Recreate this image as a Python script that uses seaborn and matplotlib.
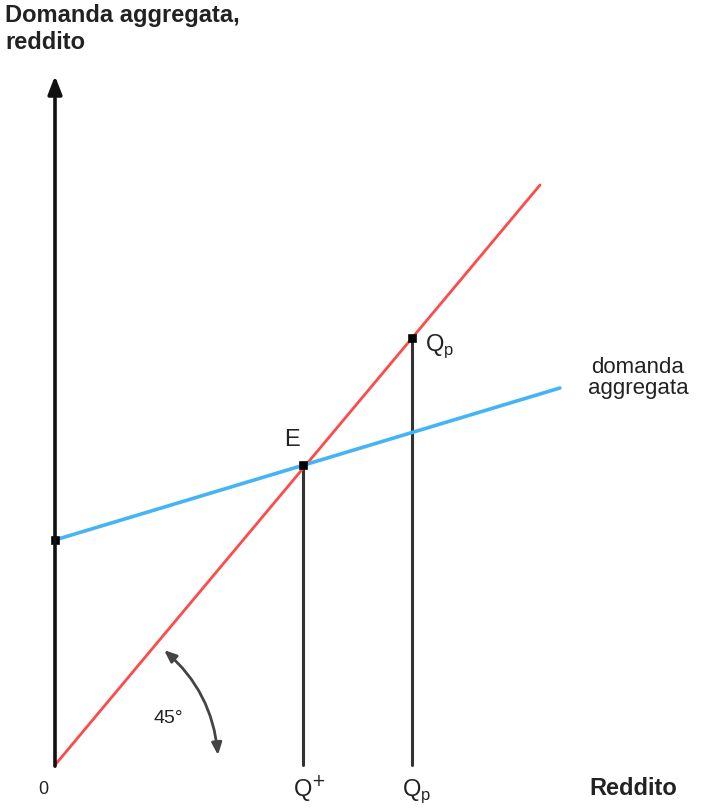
import matplotlib
matplotlib.use("Agg")
import matplotlib.pyplot as plt
import seaborn as sns
import pandas as pd

sns.set_theme(style="white")
plt.rcParams['font.family'] = ['Liberation Sans', 'DejaVu Sans']

# data
red_x = [0.0, 10.0]
red_y = [0.0, 10.0]
blue_x = [0.0, 10.41]
blue_y = [3.88, 6.50]
pts_x = [0.0, 5.12, 7.36]
pts_y = [3.88, 5.17, 7.36]
q_star = 5.12
q_p = 7.36
e_y = 5.17
qp_y = 7.36
x_axis_end = 13.6
y_axis_end = 11.88

fig = plt.figure(figsize=(7.14, 8.08), dpi=100)
ax = fig.add_axes([0, 0, 1, 1])
ax.set_xlim(-55 / 48.5, 659 / 48.5)
ax.set_ylim(-43 / 58, 765 / 58)
ax.axis('off')

# vertical guide lines
ax.plot([q_star, q_star], [0, e_y], color='#333333', lw=2.2, zorder=2)
ax.plot([q_p, q_p], [0, qp_y], color='#333333', lw=2.2, zorder=2)

red_df = pd.DataFrame({'x': red_x, 'y': red_y})
blue_df = pd.DataFrame({'x': blue_x, 'y': blue_y})
sns.lineplot(data=red_df, x='x', y='y', ax=ax, color='#ff4a4a', lw=2.0, zorder=3)
sns.lineplot(data=blue_df, x='x', y='y', ax=ax, color='#45b4f5', lw=2.6, zorder=3)

pts_df = pd.DataFrame({'x': pts_x, 'y': pts_y})
sns.scatterplot(data=pts_df, x='x', y='y', ax=ax, marker='s', s=30, color='black',
                edgecolor='black', zorder=5)

# axes with arrows
ax.annotate('', xy=(x_axis_end, 0), xytext=(-0.02, 0),
            arrowprops=dict(arrowstyle='-|>,head_length=0.9,head_width=0.35', color='#111111', lw=3.2,
                            shrinkA=0, shrinkB=0), zorder=6)
ax.annotate('', xy=(0, y_axis_end), xytext=(0, -0.02),
            arrowprops=dict(arrowstyle='-|>,head_length=0.9,head_width=0.35', color='#111111', lw=2.6,
                            shrinkA=0, shrinkB=0), zorder=6)

# 45 degree arc arrow
ax.annotate('', xy=(3.36, 0.17), xytext=(2.25, 1.98),
            arrowprops=dict(arrowstyle='<|-|>,head_length=0.6,head_width=0.25', color='#444444', lw=2.0,
                            connectionstyle='arc3,rad=-0.2', shrinkA=0, shrinkB=0), zorder=4)

tk = dict(color='#222222', fontweight='bold')
ax.text(5 / 48.5 - 55 / 48.5, 765 / 58 - 4 / 58, 'Domanda aggregata,\nreddito', fontsize=17,
        ha='left', va='top', linespacing=1.2, **tk)
ax.text(11.92, -0.4, 'Reddito', fontsize=17, ha='center', va='center', **tk)
ax.text(-0.25, -0.43, '0', fontsize=13, ha='center', va='center', color='#222222')
ax.text(5.25, -0.4, 'Q$^{+}$', fontsize=17, ha='center', va='center', color='#222222')
ax.text(7.46, -0.45, 'Q$_\\mathregular{p}$', fontsize=17, ha='center', va='center', color='#222222')
ax.text(4.89, 5.6, 'E', fontsize=17, ha='center', va='center', color='#222222')
ax.text(7.62, 7.22, 'Q$_\\mathregular{p}$', fontsize=17, ha='left', va='center', color='#222222')
ax.text(12.02, 6.67, 'domanda\naggregata', fontsize=16, ha='center', va='center',
        linespacing=1.0, color='#222222')
ax.text(2.33, 0.8, '45°', fontsize=14, ha='center', va='center', color='#222222')

fig.savefig('out.png', dpi=100)
